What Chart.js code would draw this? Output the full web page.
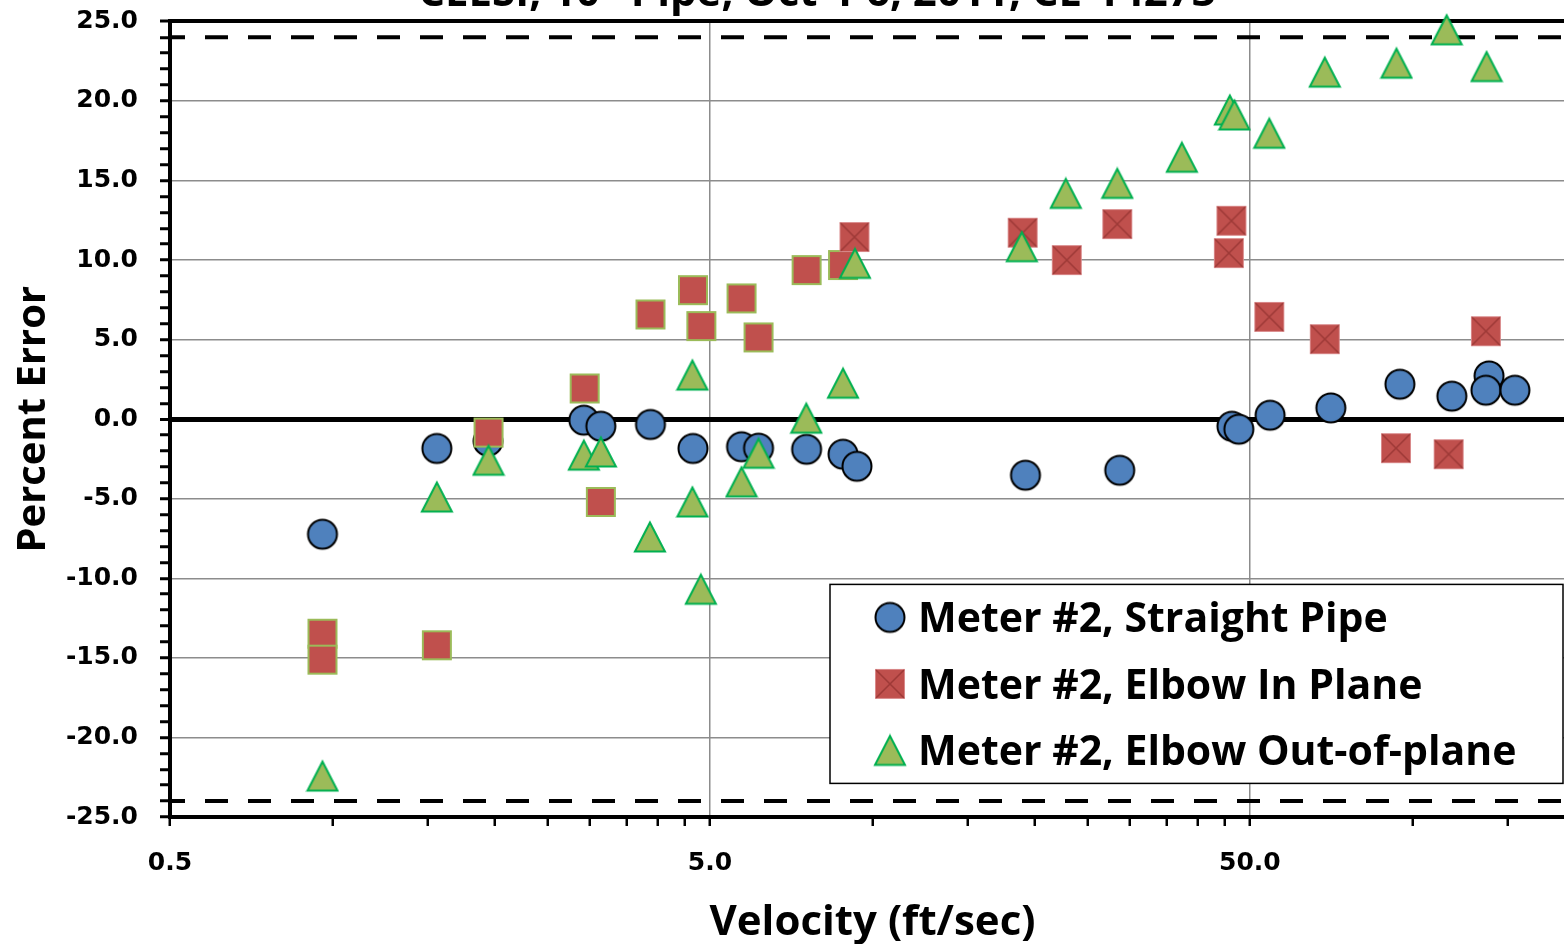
<!DOCTYPE html>
<html>
<head>
<meta charset="utf-8">
<title>CEESI, 10" Pipe - Percent Error vs Velocity</title>
<script src="https://cdn.jsdelivr.net/npm/chart.js@4.4.0/dist/chart.umd.min.js"></script>
<style>
  html, body { margin: 0; padding: 0; background: #fff; overflow: hidden; }
  #wrap { position: relative; width: 1564px; height: 944px; overflow: hidden; }
  #chart { position: absolute; left: 0; top: -40px; }
</style>
</head>
<body>
<div id="wrap"><canvas id="chart" width="1634" height="1000"></canvas></div>
<script>
const titleText = 'CEESI, 10" Pipe, Oct 4-6, 2011, CE-14273';
const seriesNames = ['Meter #2, Straight Pipe', 'Meter #2, Elbow In Plane', 'Meter #2, Elbow Out-of-plane'];

// x axis (log) ticks, labels only on the decades
const xTicks = [0.5, 1, 1.5, 2, 2.5, 3, 3.5, 4, 4.5, 5, 10, 15, 20, 25, 30, 35, 40, 45, 50, 100, 150, 200];
const xMajor = [0.5, 5, 50];
const xMin = 0.5, xMax = 200;
const yMin = -25, yMax = 25;
const limitBand = 24;

// Meter #2, straight pipe (circles)
const straightX = [0.958, 1.56, 1.94, 2.92, 3.14, 3.88, 4.65, 5.72, 6.15, 7.55, 8.82, 9.36, 19.2, 28.7, 46.3, 47.7, 54.5, 70.6, 94.8, 118.3, 138.6, 136.8, 154.8];
const straightY = [-7.23, -1.84, -1.38, -0.06, -0.44, -0.33, -1.84, -1.73, -1.82, -1.89, -2.20, -2.96, -3.52, -3.21, -0.44, -0.63, 0.25, 0.71, 2.20, 1.45, 2.72, 1.82, 1.82];

// elbow in plane, low velocity run (plain squares)
const inPlaneLoX = [0.958, 0.958, 1.56, 1.945, 2.93, 3.14, 3.88, 4.65, 4.82, 5.72, 6.15, 7.55, 8.82];
const inPlaneLoY = [-13.48, -15.11, -14.21, -0.84, 1.93, -5.20, 6.58, 8.11, 5.85, 7.59, 5.14, 9.37, 9.69];

// elbow in plane, high velocity run (squares with cross)
const inPlaneHiX = [9.26, 18.97, 22.9, 28.4, 46.2, 45.7, 54.3, 68.8, 93.2, 116.7, 136.8];
const inPlaneHiY = [11.45, 11.72, 10.0, 12.26, 12.47, 10.44, 6.43, 5.03, -1.82, -2.20, 5.53];

// elbow out-of-plane (triangles)
const outPlaneX = [0.958, 1.56, 1.945, 2.92, 3.14, 3.87, 4.64, 4.64, 4.81, 5.72, 6.15, 7.54, 8.82, 9.28, 18.9, 22.8, 28.4, 37.4, 45.9, 46.8, 54.3, 68.8, 93.4, 115.7, 137.2];
const outPlaneY = [-22.43, -4.89, -2.58, -2.26, -2.06, -7.40, -5.20, 2.77, -10.69, -3.94, -2.14, 0.06, 2.26, 9.79, 10.84, 14.19, 14.82, 16.46, 19.43, 19.12, 17.97, 21.81, 22.37, 24.47, 22.16];

const pts = (xs, ys) => xs.map((x, i) => ({ x: x, y: ys[i] }));

function makeMarker(kind) {
    const c = document.createElement('canvas');
    c.width = 34; c.height = 34;
    const g = c.getContext('2d');
    if (kind == 'circle') {
        g.beginPath(); g.arc(17, 17, 14.5, 0, Math.PI * 2);
        g.fillStyle = '#4F81BD'; g.fill();
        g.lineWidth = 2; g.strokeStyle = '#000'; g.stroke();
    } else if (kind == 'square') {
        g.fillStyle = '#C0504D'; g.fillRect(2, 2, 30, 30);
        g.lineWidth = 2; g.strokeStyle = '#9BBB59'; g.strokeRect(3, 3, 28, 28);
    } else if (kind == 'squareX') {
        g.fillStyle = '#C0504D'; g.fillRect(2, 2, 30, 30);
        g.lineWidth = 1; g.strokeStyle = '#D9898A'; g.strokeRect(2.5, 2.5, 29, 29);
        g.strokeStyle = 'rgba(130,40,38,0.55)'; g.lineWidth = 1.5;
        g.beginPath(); g.moveTo(3, 3); g.lineTo(31, 31); g.moveTo(31, 3); g.lineTo(3, 31); g.stroke();
    } else {
        g.beginPath(); g.moveTo(17, 2.5); g.lineTo(32, 31.5); g.lineTo(2, 31.5); g.closePath();
        g.fillStyle = '#9BBB59'; g.fill();
        g.lineWidth = 2; g.strokeStyle = '#00B050'; g.stroke();
    }
    return c;
}
const circleMk = makeMarker('circle'), squareMk = makeMarker('square'),
      squareXMk = makeMarker('squareX'), triMk = makeMarker('tri');
const legendMarkers = [circleMk, squareXMk, triMk];

// boxed legend sitting inside the plot, lower right
const boxLegend = {
    id: 'boxLegend',
    afterDatasetsDraw(chart) {
        const { ctx, chartArea } = chart;
        const x0 = chartArea.left + 660, y0 = chartArea.top + 563, w = 733, h = 199;
        ctx.save();
        ctx.fillStyle = '#fff'; ctx.fillRect(x0, y0, w, h);
        ctx.strokeStyle = '#000'; ctx.lineWidth = 1.5; ctx.strokeRect(x0, y0, w, h);
        ctx.font = 'bold 41px "Open Sans"';
        ctx.fillStyle = '#000'; ctx.textBaseline = 'alphabetic';
        seriesNames.forEach((name, i) => {
            const cy = y0 + 33 + i * 66.5;
            const mk = legendMarkers[i];
            ctx.drawImage(mk, x0 + 60 - mk.width / 2, cy - mk.height / 2);
            ctx.fillText(name, x0 + 88, cy + 15);
        });
        ctx.restore();
    }
};

const gray = '#8c8c8c';
const tickFont = { family: 'DejaVu Sans', size: 25, weight: 'bold' };

new Chart(document.getElementById('chart'), {
    type: 'scatter',
    data: {
        datasets: [
            { label: seriesNames[0], data: pts(straightX, straightY), pointStyle: circleMk, pointRadius: 15, order: 3 },
            { label: seriesNames[1], data: pts(inPlaneHiX, inPlaneHiY), pointStyle: squareXMk, pointRadius: 15, order: 1 },
            { label: seriesNames[2], data: pts(outPlaneX, outPlaneY), pointStyle: triMk, pointRadius: 15, order: 0, clip: false },
            { label: 'in plane (low)', data: pts(inPlaneLoX, inPlaneLoY), pointStyle: squareMk, pointRadius: 15, order: 2 },
            { label: '+limit', data: [{ x: xMin, y: limitBand }, { x: xMax, y: limitBand }], showLine: true, pointRadius: 0,
              borderColor: '#000', borderWidth: 4, borderDash: [23, 20], borderDashOffset: 8, order: 5 },
            { label: '-limit', data: [{ x: xMin, y: -limitBand }, { x: xMax, y: -limitBand }], showLine: true, pointRadius: 0,
              borderColor: '#000', borderWidth: 4, borderDash: [23, 20], borderDashOffset: 8, order: 5 }
        ]
    },
    options: {
        responsive: false,
        animation: false,
        events: [],
        layout: { padding: 0 },
        plugins: {
            legend: { display: false },
            tooltip: { enabled: false },
            title: {
                display: true, text: titleText, color: '#000',
                font: { family: 'Open Sans', size: 42, weight: 'bold', lineHeight: 1.2 },
                padding: { top: 9, bottom: 2 }
            }
        },
        scales: {
            x: {
                type: 'logarithmic', min: xMin, max: xMax,
                afterBuildTicks: axis => { axis.ticks = xTicks.map(v => ({ value: v })); },
                afterFit: scale => { scale.height = 143; },
                ticks: {
                    autoSkip: false, maxRotation: 0, padding: 22, color: '#000', font: tickFont,
                    callback: v => xMajor.includes(v) ? v.toFixed(1) : ''
                },
                grid: {
                    color: c => (c.tick && xMajor.includes(c.tick.value) && c.tick.value != xMin) ? gray : 'rgba(0,0,0,0)',
                    lineWidth: 1.5, tickLength: 9, tickColor: '#000', tickWidth: 2.5
                },
                border: { display: true, color: '#000', width: 4 },
                title: {
                    display: true, text: 'Velocity (ft/sec)', color: '#000',
                    font: { family: 'Open Sans', size: 42, weight: 'bold', lineHeight: 1.2 },
                    padding: { top: 0, bottom: 12 }
                }
            },
            y: {
                type: 'linear', min: yMin, max: yMax,
                afterFit: scale => { scale.width = 170; },
                ticks: {
                    stepSize: 1, autoSkip: false, padding: 22, color: '#000', font: tickFont,
                    callback: v => v % 5 === 0 ? v.toFixed(1) : ''
                },
                grid: {
                    color: c => {
                        if (!c.tick) return 'rgba(0,0,0,0)';
                        const v = c.tick.value;
                        if (v === 0 || v === yMax) return '#000';
                        if (v % 5 === 0 && v !== yMin) return gray;
                        return 'rgba(0,0,0,0)';
                    },
                    lineWidth: c => (c.tick && c.tick.value === 0) ? 5 : (c.tick && c.tick.value === yMax ? 4 : 1.5),
                    tickLength: 10, tickColor: '#000', tickWidth: 3
                },
                border: { display: true, color: '#000', width: 4 },
                title: {
                    display: true, text: 'Percent Error', color: '#000',
                    font: { family: 'Open Sans', size: 40, weight: 'bold', lineHeight: 1.2 },
                    padding: { top: 10, bottom: 0 }
                }
            },
            // empty right-hand strip so the plot ends where the title centring expects
            yRight: {
                type: 'linear', position: 'right', min: yMin, max: yMax,
                afterFit: scale => { scale.width = 59; },
                ticks: { display: false },
                grid: { display: false, drawTicks: false },
                border: { display: false }
            }
        }
    },
    plugins: [boxLegend]
});
</script>
</body>
</html>
